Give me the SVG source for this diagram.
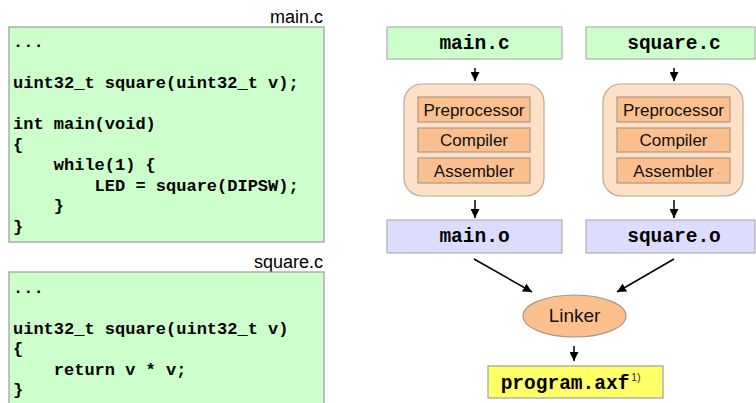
<svg xmlns="http://www.w3.org/2000/svg" width="756" height="403" viewBox="0 0 756 403">
  <style>
    .code { font-family: "Liberation Mono", "Courier New", monospace; font-weight: bold; font-size: 17px; fill: #000; white-space: pre; }
    .fname { font-family: "Liberation Sans", Arial, sans-serif; font-size: 18px; fill: #000; text-anchor: end; }
    .srcbox { fill: #ccffcc; stroke: #9a9a9a; stroke-width: 1.2; }
    .file { fill: #ccffcc; stroke: #b0b0b0; stroke-width: 1.2; }
    .obj { fill: #dcdcfc; stroke: #b0b0b0; stroke-width: 1.2; }
    .exe { fill: #ffff66; stroke: #a0a0a0; stroke-width: 1.2; }
    .mono { font-family: "Liberation Mono", "Courier New", monospace; font-weight: bold; font-size: 19.5px; fill: #000; text-anchor: middle; }
    .tool { fill: #fde0c5; stroke: #c0a890; stroke-width: 1.2; }
    .stage { fill: #fbc08e; stroke: #a89888; stroke-width: 1.2; }
    .lbl { font-family: "Liberation Sans", Arial, sans-serif; font-size: 17px; fill: #111; text-anchor: middle; }
    .conn { stroke: #000; stroke-width: 1.5; fill: none; marker-end: url(#arrow); }
  </style>
  <defs>
    <marker id="arrow" viewBox="0 0 10 10" refX="10" refY="5" markerWidth="6" markerHeight="6" markerUnits="strokeWidth" orient="auto">
      <path d="M0,0 L10,5 L0,10 Z" fill="#000"/>
    </marker>
  </defs>

  <rect width="756" height="403" fill="#fff"/>

  <!-- Source listing: main.c -->
  <g id="listing-main">
    <text class="fname" x="323" y="23">main.c</text>
    <rect class="srcbox" x="9" y="27" width="315" height="215"/>
    <text class="code" x="13" y="47">...</text>
    <text class="code" x="13" y="88">uint32_t square(uint32_t v);</text>
    <text class="code" x="13" y="129">int main(void)</text>
    <text class="code" x="13" y="150">{</text>
    <text class="code" x="13" y="170">    while(1) {</text>
    <text class="code" x="13" y="191">        LED = square(DIPSW);</text>
    <text class="code" x="13" y="211">    }</text>
    <text class="code" x="13" y="232">}</text>
  </g>

  <!-- Source listing: square.c -->
  <g id="listing-square">
    <text class="fname" x="323" y="268">square.c</text>
    <rect class="srcbox" x="9" y="272" width="315" height="145"/>
    <text class="code" x="13" y="293">...</text>
    <text class="code" x="13" y="334">uint32_t square(uint32_t v)</text>
    <text class="code" x="13" y="354">{</text>
    <text class="code" x="13" y="375">    return v * v;</text>
    <text class="code" x="13" y="395">}</text>
  </g>

  <!-- Build flow -->
  <g id="src-main">
    <rect class="file" x="387" y="27" width="175" height="32"/>
    <text class="mono" x="474.5" y="49">main.c</text>
  </g>
  <g id="src-square">
    <rect class="file" x="586" y="27" width="169" height="32"/>
    <text class="mono" x="674" y="49">square.c</text>
  </g>

  <g id="toolchain-main">
    <rect class="tool" x="404" y="84" width="140" height="112" rx="18"/>
    <rect class="stage" x="418" y="97" width="112" height="25"/>
    <text class="lbl" x="474" y="116">Preprocessor</text>
    <rect class="stage" x="418" y="128" width="112" height="24"/>
    <text class="lbl" x="474" y="146">Compiler</text>
    <rect class="stage" x="418" y="158" width="112" height="25"/>
    <text class="lbl" x="474" y="177">Assembler</text>
  </g>
  <g id="toolchain-square">
    <rect class="tool" x="603" y="84" width="140" height="112" rx="18"/>
    <rect class="stage" x="617" y="97" width="113" height="25"/>
    <text class="lbl" x="673.5" y="116">Preprocessor</text>
    <rect class="stage" x="617" y="128" width="113" height="24"/>
    <text class="lbl" x="673.5" y="146">Compiler</text>
    <rect class="stage" x="617" y="158" width="113" height="25"/>
    <text class="lbl" x="673.5" y="177">Assembler</text>
  </g>

  <g id="obj-main">
    <rect class="obj" x="387" y="220" width="175" height="33"/>
    <text class="mono" x="474.5" y="242">main.o</text>
  </g>
  <g id="obj-square">
    <rect class="obj" x="586" y="220" width="169" height="33"/>
    <text class="mono" x="674" y="242">square.o</text>
  </g>

  <g id="linker">
    <ellipse cx="574.5" cy="316" rx="51.5" ry="21" fill="#fbc08e" stroke="#a89888" stroke-width="1.2"/>
    <text class="lbl" x="574.5" y="322" style="font-size:19px">Linker</text>
  </g>

  <g id="program">
    <rect class="exe" x="488" y="366" width="175" height="32"/>
    <text class="mono" x="565" y="389" style="text-anchor:middle">program.axf</text>
    <text x="631" y="381" style="font-family:'Liberation Sans',Arial,sans-serif;font-size:11px;fill:#333">1)</text>
  </g>

  <g id="connectors">
    <line class="conn" x1="475" y1="68" x2="475" y2="81"/>
    <line class="conn" x1="674" y1="68" x2="674" y2="81"/>
    <line class="conn" x1="475" y1="200" x2="475" y2="218"/>
    <line class="conn" x1="674" y1="200" x2="674" y2="218"/>
    <line class="conn" x1="474" y1="259" x2="532" y2="292"/>
    <line class="conn" x1="674" y1="259" x2="617" y2="292"/>
    <line class="conn" x1="574" y1="346" x2="574" y2="361"/>
  </g>
</svg>
